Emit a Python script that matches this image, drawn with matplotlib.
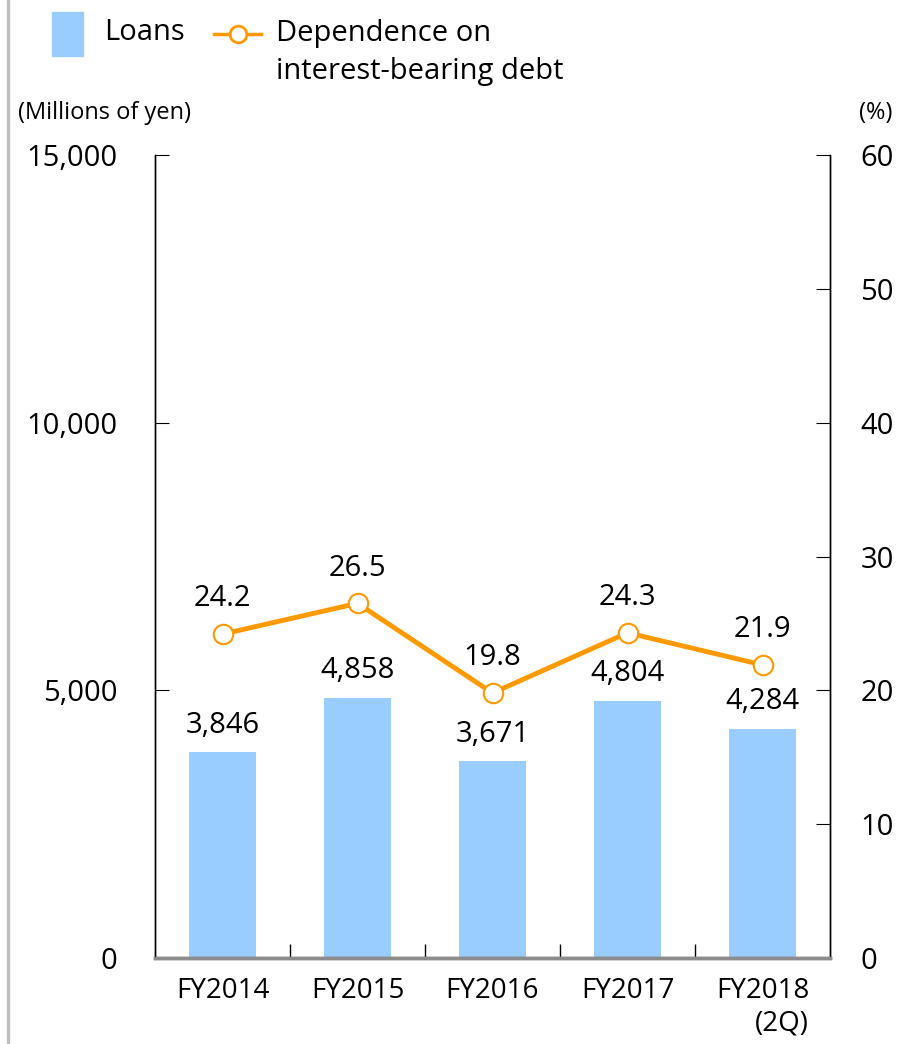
import matplotlib.pyplot as plt
from matplotlib.lines import Line2D
from matplotlib.patches import Rectangle

plt.rcParams['font.family'] = ['Open Sans', 'DejaVu Sans']

years = ["FY2014", "FY2015", "FY2016", "FY2017", "FY2018\n(2Q)"]
loans = [3846, 4858, 3671, 4804, 4284]
dependence = [24.2, 26.5, 19.8, 24.3, 21.9]

bar_color = "#99CCFF"
line_color = "#FF9900"
fs = 21

fig = plt.figure(figsize=(9.24, 10.44), dpi=100)
ax = fig.add_axes([155 / 924, 86 / 1044, 675 / 924, 803 / 1044])
ax2 = ax.twinx()

x = list(range(len(years)))
ax.bar(x, loans, width=0.5, color=bar_color, zorder=2)
for xi, v in zip(x, loans):
    ax.annotate(f"{v:,}", (xi, v), xytext=(0, 9), textcoords="offset points",
                ha="center", va="bottom", fontsize=fs)

ax2.plot(x, dependence, color=line_color, lw=3.5, marker="o", markersize=14,
         markerfacecolor="white", markeredgecolor=line_color, markeredgewidth=1.5,
         zorder=3)
for xi, v in zip(x, dependence):
    ax2.annotate(f"{v:.1f}", (xi, v), xytext=(0, 15), textcoords="offset points",
                 ha="center", va="bottom", fontsize=fs)

ax.set_xlim(-0.5, len(years) - 0.5)
ax.set_ylim(0, 15000)
ax2.set_ylim(0, 60)
ax.set_yticks([0, 5000, 10000, 15000])
ax.set_yticklabels(["0", "5,000", "10,000", "15,000"])
ax2.set_yticks([0, 10, 20, 30, 40, 50, 60])

ax.set_xticks(x)
ax.set_xticklabels(years, fontsize=fs - 1, multialignment="right")
ax.set_xticks([i + 0.5 for i in x[:-1]], minor=True)
ax.tick_params(axis="x", which="major", length=0, pad=14)
ax.tick_params(axis="x", which="minor", direction="in", length=10, width=1)
ax.tick_params(axis="y", direction="in", length=10, labelsize=fs, pad=27)
ax2.tick_params(axis="y", direction="in", length=10, labelsize=fs, pad=22)

for a in (ax, ax2):
    a.spines["top"].set_visible(False)
    a.spines["bottom"].set_color("#8c8c8c")
    a.spines["bottom"].set_linewidth(2.5)
    a.spines["left"].set_linewidth(1)
    a.spines["right"].set_linewidth(1)

fig.text(18 / 924, 1 - 113 / 1044, "(Millions of yen)", fontsize=17, va="center", ha="left")
fig.text(892 / 924, 1 - 113 / 1044, "(%)", fontsize=17, va="center", ha="right")

# legend
fig.add_artist(Rectangle((52 / 924, 1 - 56 / 1044), 31 / 924, 44 / 1044,
                         transform=fig.transFigure, color=bar_color))
fig.text(104 / 924, 1 - 33 / 1044, "Loans", fontsize=fs, va="center")
fig.add_artist(Line2D([214 / 924, 261 / 924], [1 - 34 / 1044, 1 - 34 / 1044],
                      transform=fig.transFigure, color=line_color, lw=2.5))
fig.add_artist(Line2D([237.5 / 924], [1 - 34 / 1044], transform=fig.transFigure,
                      marker="o", markersize=12, markerfacecolor="white",
                      markeredgecolor=line_color, markeredgewidth=2, lw=0))
fig.text(276 / 924, 1 - 33 / 1044, "Dependence on", fontsize=fs, va="center")
fig.text(276 / 924, 1 - 71 / 1044, "interest-bearing debt", fontsize=fs, va="center")

fig.add_artist(Line2D([8 / 924, 8 / 924], [0, 1], transform=fig.transFigure,
                      color="#c0c0c0", lw=2.5))

fig.savefig("out.png", dpi=100)
